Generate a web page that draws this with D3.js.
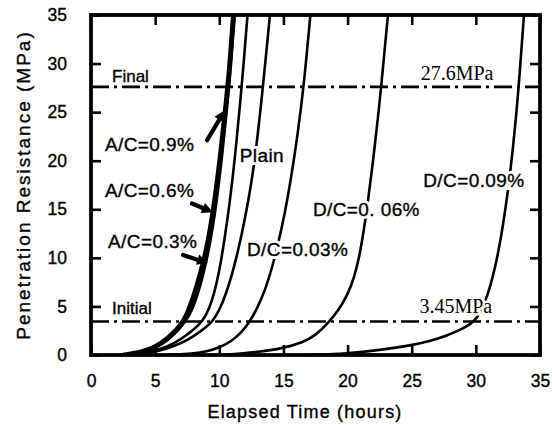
<!DOCTYPE html>
<html><head><meta charset="utf-8">
<script src="https://cdn.jsdelivr.net/npm/d3@7"></script>
<style>
html,body{margin:0;padding:0;background:#fff;}
text{font-family:"Liberation Sans",Arial,Helvetica,sans-serif;fill:#000;}
</style></head>
<body><svg id="c" width="552" height="425"></svg>
<script>
// ---- data ----
const xTicks = [0,5,10,15,20,25,30,35];
const yTicks = [0,5,10,15,20,25,30,35];
const finalValue = 27.6, initialValue = 3.45;
const seriesNames = ["A/C=0.9%","A/C=0.6%","A/C=0.3%","Plain","D/C=0.03%","D/C=0. 06%","D/C=0.09%"];
const ac09 = [[2.5,0],[4,0.3],[5,0.8],[6,1.7],[7,3.0],[7.5,4.2],[8,6.0],[8.5,8.2],[9,10.8],[9.5,14.5],[10,19.5],[10.5,25.5],[10.8,29.5],[11.1,35]];
const ac06 = [[2.8,0],[4,0.25],[5,0.7],[6,1.5],[7,2.8],[7.6,3.9],[8,5.0],[8.5,7.0],[9,9.6],[9.5,13.0],[10,17.8],[10.5,24.0],[10.9,29.5],[11.2,35]];
const ac03 = [[3,0],[4,0.2],[5,0.45],[6,0.9],[7,1.6],[8,2.6],[8.7,3.45],[9.2,4.7],[9.6,6.3],[10,8.6],[10.4,11.8],[10.8,15.5],[11.2,20],[11.6,25.6],[11.85,29.2],[12.2,35]];
const plain = [[3.5,0],[5,0.3],[6,0.7],[7,1.2],[8,1.9],[9,2.9],[9.5,3.5],[10,4.6],[10.5,6.2],[11,8.3],[11.5,10.9],[12,14.0],[12.5,17.6],[12.9,21.5],[13.3,26.3],[13.6,30.3],[13.95,35]];
const dc003 = [[6,0],[8,0.15],[9,0.35],[10,0.75],[11,1.45],[11.8,2.4],[12.4,3.5],[13,4.9],[13.6,6.8],[14.1,8.9],[14.6,11.5],[15.1,14.5],[15.6,18.2],[16.1,22.6],[16.6,27.8],[17.1,35]];
const dc006 = [[10,0],[13,0.3],[15,0.7],[16.5,1.3],[17.5,2.0],[18.5,3.3],[19.3,4.6],[20,6.2],[20.5,7.9],[20.9,10.0],[21.2,12.3],[21.5,14.9],[21.9,19.0],[22.3,23.6],[22.6,27.3],[23.0,33],[23.15,35]];
const dc009 = [[17,0],[20,0.15],[22.5,0.5],[25,1.0],[26.5,1.45],[27.75,2.0],[28.8,2.6],[29.5,3.1],[30.1,3.8],[30.5,4.8],[30.9,6.1],[31.3,7.9],[31.7,10.2],[32.1,13.2],[32.5,16.8],[32.9,21.3],[33.3,26.8],[33.75,35]];
// label anchors (data coordinates: time, MPa)
const labelPos = [[1.09,21.0],[1.09,16.3],[1.33,11.0],[11.6,19.9],[12.16,10.2],[17.3,14.3],[25.9,17.3]];
// arrows: [tail, tip]
const arrows = [[[9.04,22.1],[10.44,25.2]],[[7.87,15.6],[9.51,14.7]],[[7.17,10.3],[9.12,9.47]]];

const svg = d3.select("#c");
const L=91,R=540,T=15,B=355;
const x = d3.scaleLinear().domain([0,35]).range([L,R]);
const y = d3.scaleLinear().domain([0,35]).range([B,T]);

svg.append("clipPath").attr("id","pc").append("rect").attr("x",L).attr("y",T).attr("width",R-L).attr("height",B-T);

// reference lines
const refG = svg.append("g");
[finalValue, initialValue].forEach(v=>{
  refG.append("line").attr("x1",x(0)).attr("x2",x(35)).attr("y1",y(v)).attr("y2",y(v))
    .attr("stroke","#000").attr("stroke-width",2.6).attr("stroke-dasharray","18,5,3,5");
});

// curves
const line = d3.line().x(d=>x(d[0])).y(d=>y(d[1])).curve(d3.curveBasis);
const cg = svg.append("g").attr("clip-path","url(#pc)");
const all = [ac09,ac06,ac03,plain,dc003,dc006,dc009];
all.forEach((s,i)=>{
  cg.append("path").attr("d",line(s)).attr("fill","none").attr("stroke","#000")
    .attr("stroke-width", i===0?4.8:2.6).attr("stroke-linejoin","round");
});

// labels: white halo layer (breaks curves like the original) then ink layer
const lg = svg.append("g");
seriesNames.forEach((n,i)=>{
  const px=x(labelPos[i][0]), py=y(labelPos[i][1]);
  lg.append("text").attr("x",px).attr("y",py).attr("font-size",19).attr("letter-spacing",0.4)
    .attr("fill","#fff").attr("stroke","#fff").attr("stroke-width",6).text(n);
  lg.append("text").attr("x",px).attr("y",py).attr("font-size",19).attr("letter-spacing",0.4)
    .attr("stroke","#000").attr("stroke-width",0.35).text(n);
});

// arrows
arrows.forEach(a=>{
  const x0=x(a[0][0]),y0=y(a[0][1]),x1=x(a[1][0]),y1=y(a[1][1]);
  const ang=Math.atan2(y1-y0,x1-x0), hl=11, hw=5.5;
  const bx=x1-hl*Math.cos(ang), by=y1-hl*Math.sin(ang);
  svg.append("line").attr("x1",x0).attr("y1",y0).attr("x2",bx).attr("y2",by)
    .attr("stroke","#000").attr("stroke-width",4.2).attr("stroke-linecap","round");
  svg.append("path").attr("d",`M${x1},${y1}L${bx-hw*Math.sin(ang)},${by+hw*Math.cos(ang)}L${bx+hw*Math.sin(ang)},${by-hw*Math.cos(ang)}Z`).attr("fill","#000");
});

// reference texts
const ink = s=>s.attr("stroke","#000").attr("stroke-width",0.35);
svg.append("text").attr("x",x(1.64)).attr("y",y(28.1)).attr("font-size",17).call(ink).text("Final");
svg.append("text").attr("x",x(1.64)).attr("y",y(4.22)).attr("font-size",17).call(ink).text("Initial");
svg.append("text").attr("x",x(25.7)).attr("y",y(28.3)).attr("font-size",20)
  .style("font-family","'Liberation Serif','Times New Roman',serif").text(finalValue+"MPa");
svg.append("text").attr("x",x(25.6)).attr("y",y(4.32)).attr("font-size",20)
  .attr("stroke","#fff").attr("stroke-width",5).attr("paint-order","stroke")
  .style("font-family","'Liberation Serif','Times New Roman',serif").text(initialValue+"MPa");

// axes
const ax = svg.append("g");
ax.append("g").attr("transform",`translate(0,${B})`)
  .call(d3.axisBottom(x).tickValues(xTicks).tickSizeInner(-10).tickSizeOuter(0).tickPadding(20));
ax.append("g").attr("transform",`translate(0,${T})`)
  .call(d3.axisTop(x).tickValues(xTicks).tickSizeInner(-10).tickSizeOuter(0).tickFormat(""));
ax.append("g").attr("transform",`translate(${L},0)`)
  .call(d3.axisLeft(y).tickValues(yTicks).tickSizeInner(-10).tickSizeOuter(0).tickPadding(24));
ax.append("g").attr("transform",`translate(${R},0)`)
  .call(d3.axisRight(y).tickValues(yTicks).tickSizeInner(-10).tickSizeOuter(0).tickFormat(""));
ax.selectAll(".domain").remove();
ax.selectAll(".tick line").attr("stroke","#000").attr("stroke-width",2.6);
ax.selectAll(".tick text").attr("font-size",17.5).attr("font-family","'Liberation Sans',Arial,sans-serif")
  .attr("fill","#000").attr("stroke","#000").attr("stroke-width",0.35);
svg.append("rect").attr("x",L).attr("y",T).attr("width",R-L).attr("height",B-T)
  .attr("fill","none").attr("stroke","#000").attr("stroke-width",3.8);

// axis titles
svg.append("text").attr("x",305).attr("y",418).attr("text-anchor","middle")
  .attr("font-size",18).attr("letter-spacing",1.2).call(ink).text("Elapsed Time (hours)");
svg.append("text").attr("transform",`translate(30,${(T+B)/2}) rotate(-90)`).attr("text-anchor","middle")
  .attr("font-size",19).attr("letter-spacing",2).call(ink).text("Penetration Resistance (MPa)");
</script></body></html>
